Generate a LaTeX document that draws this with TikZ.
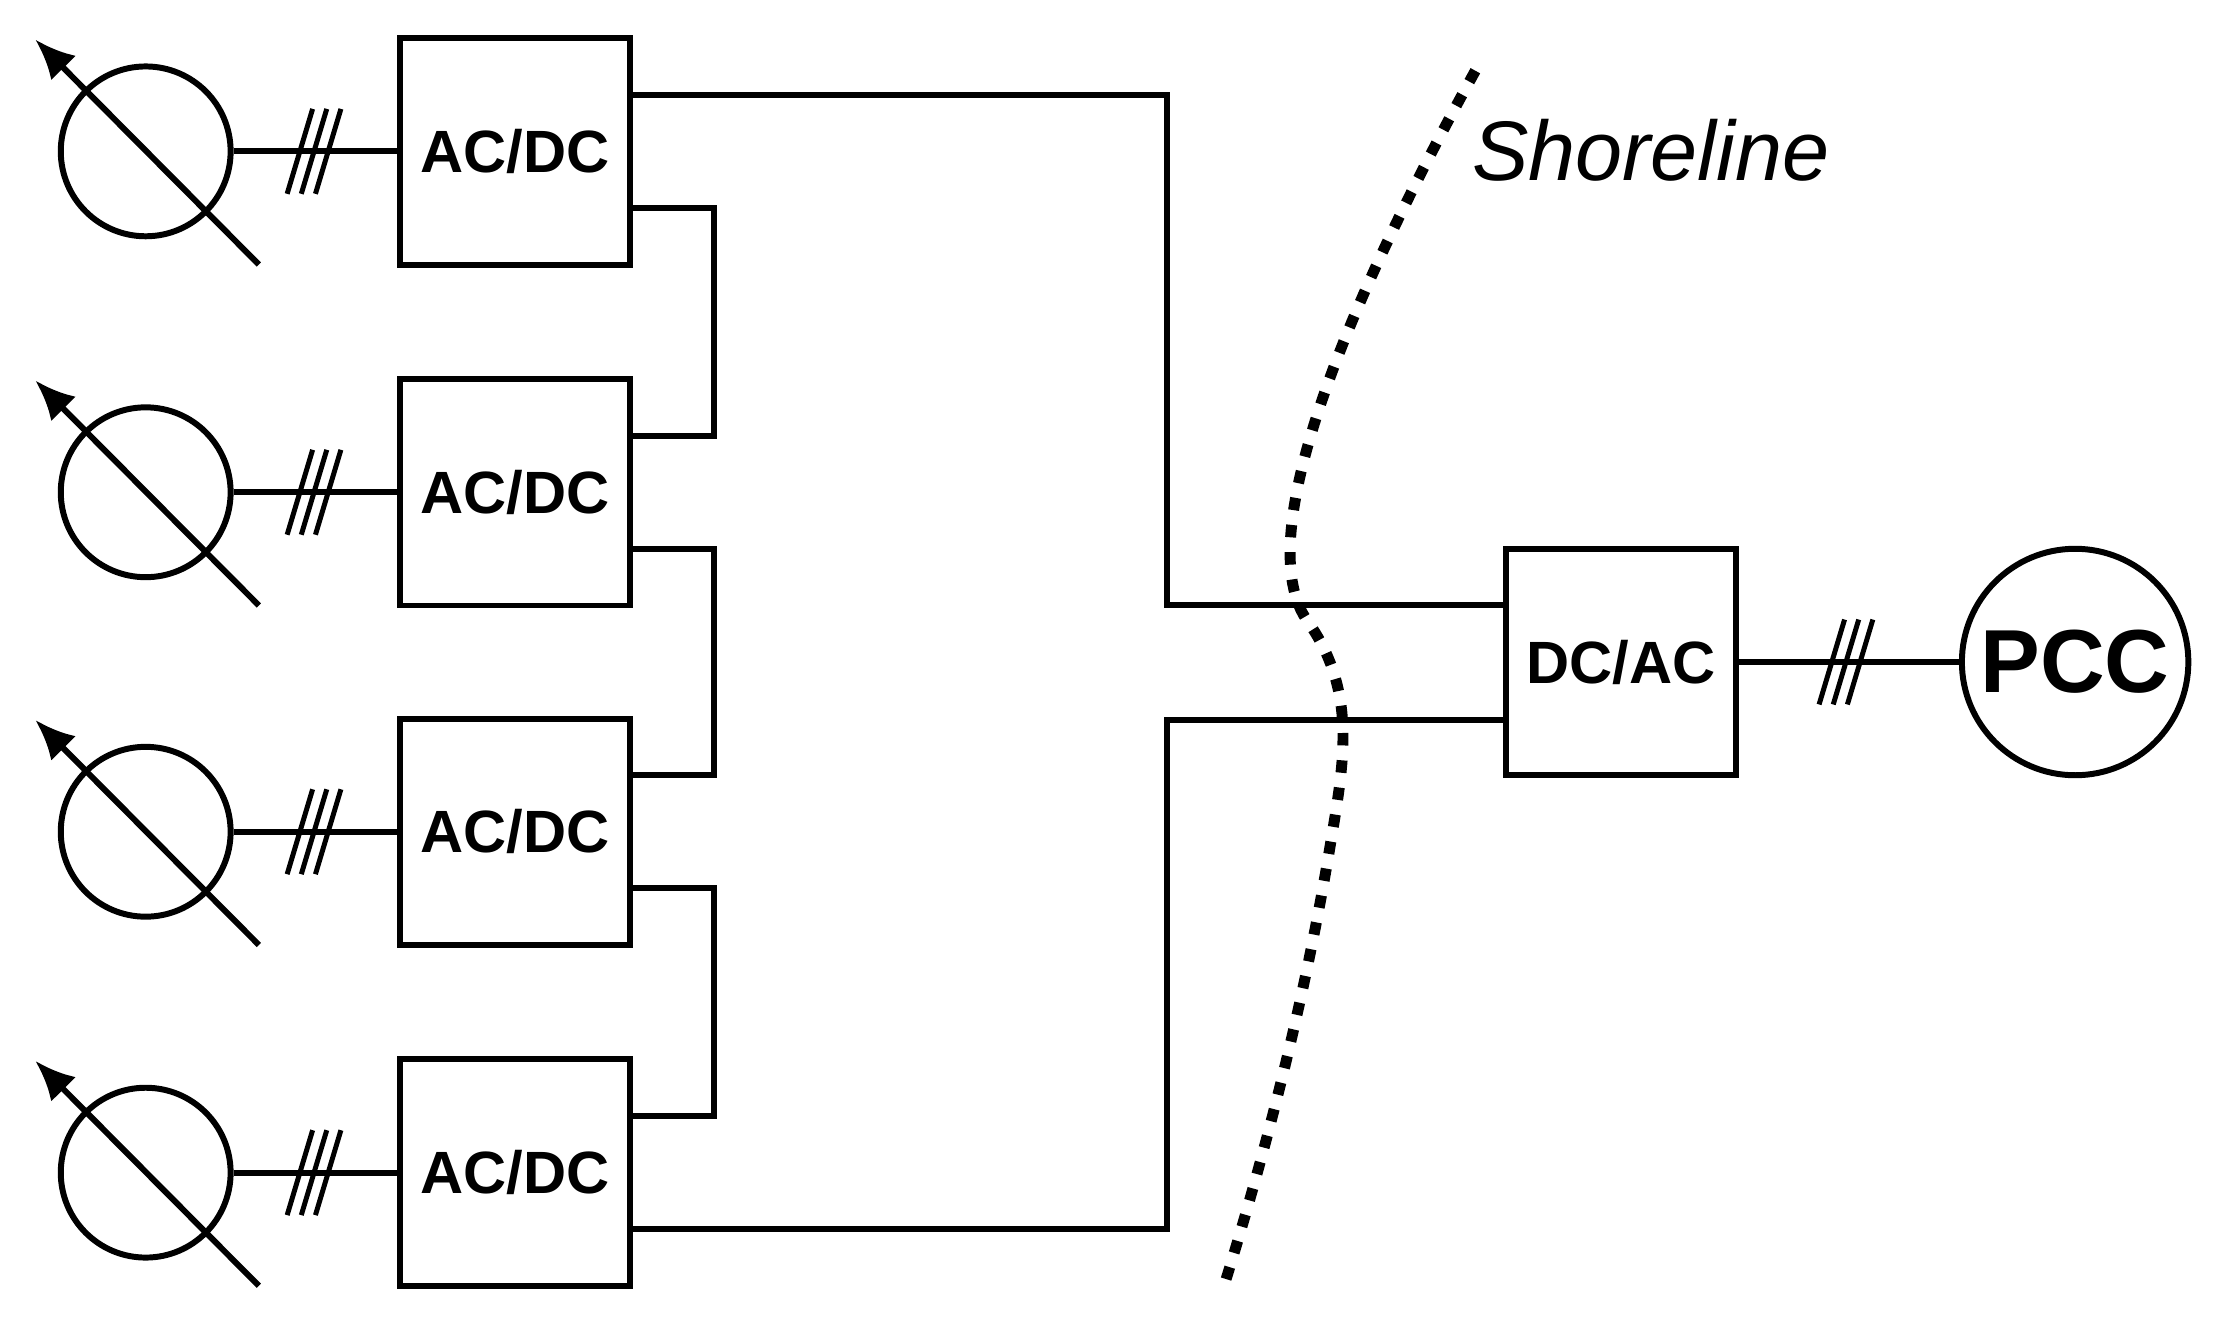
\documentclass[tikz,border=0pt]{standalone}
\usepackage{fontspec}
\setmainfont{Liberation Sans}
\usetikzlibrary{arrows.meta}
\begin{document}
\begin{tikzpicture}[x=0.01cm,y=-0.01cm,line width=1.2pt,
 conv/.style={draw,minimum width=1.62cm,minimum height=1.6cm,font=\fontsize{12}{14}\selectfont\bfseries,inner sep=0pt},
 gen/.style={draw,circle,minimum size=1.2cm,inner sep=0pt},
 wire/.style={line width=1.2pt}]
\useasboundingbox (0,0) rectangle (1568,942);
\foreach \i/\y in {1/107,2/348,3/588,4/829}{
  \node[gen] (g\i) at (103,\y) {};
  \draw[-{Latex[length=8pt,width=7pt]}] (183,\y+80) -- (25,\y-79);
  \node[conv] (c\i) at (364,\y) {AC/DC};
  \draw (g\i) -- (c\i);
  \coordinate (h\i) at (222,\y);
  \foreach \d in {-10,0,10}{\draw[line width=1pt] ([xshift=\d*0.01cm-0.09cm,yshift=-0.3cm]h\i) -- ([xshift=\d*0.01cm+0.09cm,yshift=0.3cm]h\i);}
}
\node[conv] (inv) at (1146,468) {DC/AC};
\node[draw,circle,minimum size=1.6cm,inner sep=0pt,font=\fontsize{18}{20}\selectfont\bfseries] (pcc) at (1467,468) {PCC};
\draw (inv) -- (pcc);
\coordinate (h5) at (1305,468);
\foreach \d in {-10,0,10}{\draw[line width=1pt] ([xshift=\d*0.01cm-0.09cm,yshift=-0.3cm]h5) -- ([xshift=\d*0.01cm+0.09cm,yshift=0.3cm]h5);}
% DC wiring
\draw (c1.east |- 0,67) -- (825,67) -- (825,428) -- (inv.west |- 0,428);
\draw (c4.east |- 0,869) -- (825,869) -- (825,509) -- (inv.west |- 0,509);
\draw (c1.east |- 0,147) -- (505,147) -- (505,308) -- (c2.east |- 0,308);
\draw (c2.east |- 0,388) -- (505,388) -- (505,548) -- (c3.east |- 0,548);
\draw (c3.east |- 0,628) -- (505,628) -- (505,789) -- (c4.east |- 0,789);
% shoreline
\draw[line width=2.2pt,dash pattern=on 2.5pt off 3pt] (1043,50) .. controls (960,200) and (880,380) .. (925,440) .. controls (960,490) and (950,540) .. (940,600) .. controls (920,720) and (890,830) .. (865,910);
\node[font=\fontsize{17}{20}\selectfont\itshape] (sh) at (1167,106) {Shoreline};
\end{tikzpicture}
\end{document}
